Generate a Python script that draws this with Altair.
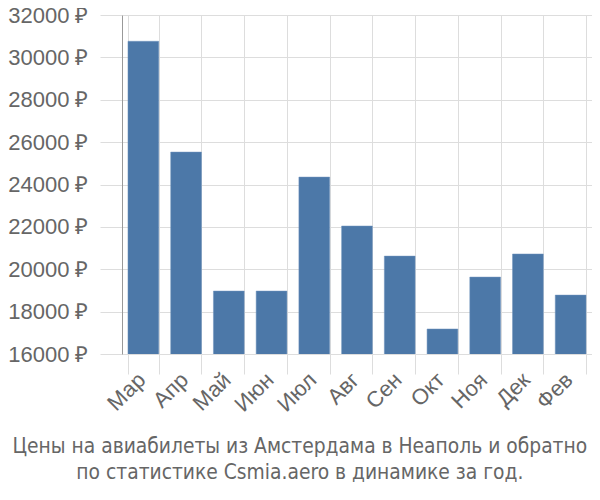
import altair as alt
import pandas as pd

months = ["Мар", "Апр", "Май", "Июн", "Июл", "Авг", "Сен", "Окт", "Ноя", "Дек", "Фев"]
prices = [30760, 25530, 18970, 18970, 24350, 22040, 20620, 17180, 19630, 20720, 18780]
y_ticks = [16000, 18000, 20000, 22000, 24000, 26000, 28000, 30000, 32000]
title_lines = ["Цены на авиабилеты из Амстердама в Неаполь и обратно",
               "по статистике Csmia.aero в динамике за год."]

df = pd.DataFrame({"month": months, "price": prices})

chart = alt.Chart(df).mark_bar(color="#4c78a8", stroke="#6f93bd", strokeWidth=0.5, clip=True).encode(
    x=alt.X("month:N", sort=months, title=None,
            scale=alt.Scale(paddingInner=0.28, paddingOuter=0.14),
            axis=alt.Axis(labelAngle=-45, labelAlign="right", labelBaseline="middle",
                          labelFontSize=22, labelColor="#666666",
                          labelFont="Liberation Sans", tickBand="extent", grid=True,
                          gridColor="#dddddd", tickColor="#dddddd", tickSize=20,
                          domain=False, labelPadding=2, labelOffset=-2)),
    y=alt.Y("price:Q", title=None,
            scale=alt.Scale(domain=[16000, 32000], nice=False, zero=False),
            axis=alt.Axis(values=y_ticks, labelExpr="datum.value + ' ₽'",
                          labelFontSize=22, labelColor="#666666", labelFont="Liberation Sans",
                          gridColor="#dddddd", tickColor="#dddddd", tickSize=22,
                          labelPadding=12, domainColor="#999999")),
).properties(
    width=470, height=339,
    title=alt.TitleParams(title_lines, orient="bottom", anchor="middle", frame="bounds",
                          fontSize=20.8, font="DejaVu Sans Condensed", fontWeight="normal",
                          color="#666666", offset=22, lineHeight=26),
    autosize=alt.AutoSizeParams(type="none"),
    padding={"left": 114, "top": 7, "right": 0, "bottom": 138},
).configure_view(stroke=None)

chart.save("out.html", embed_options={"renderer": "svg", "actions": False})
